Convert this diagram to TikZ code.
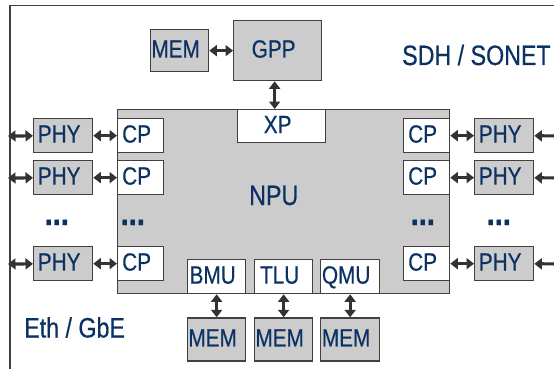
\documentclass[tikz,border=0pt]{standalone}
\usepackage{fontspec}
\setmainfont{Liberation Sans}[FakeStretch=0.83, FakeBold=0.5]
\usetikzlibrary{arrows.meta, positioning}
\definecolor{navy}{HTML}{0B3263}
\definecolor{boxgray}{HTML}{CCCCCC}
\definecolor{edge}{HTML}{404040}
\definecolor{arrowgray}{HTML}{333333}

\begin{document}
\begin{tikzpicture}[
    x=1pt, y=-1pt,
    node distance=23pt,
    box/.style={draw=edge, line width=1.3pt, fill=boxgray, anchor=north west, inner sep=0pt, text=navy,
        font=\fontsize{25}{25}\selectfont, text height=18pt, text depth=4pt, execute at end node=\hspace*{8pt}},
    port/.style={box, fill=white},
    lbl/.style={text=navy, font=\fontsize{28}{28}\selectfont, inner sep=0pt, anchor=base west},
    dots/.style={text=navy, font=\fontsize{35}{35}\selectfont\bfseries, inner sep=0pt, anchor=base west},
    arrow/.style={{Triangle[length=7.5pt,width=11pt]}-{Triangle[length=7.5pt,width=11pt]}, line width=3.2pt, draw=arrowgray}
]
    \useasboundingbox (0,0) rectangle (554,369);
    % frame
    \draw[edge, line width=1.3pt] (10,380) -- (10,5.5) -- (570,5.5);

    \node[box, minimum width=88pt, minimum height=60pt] (gpp) at (233,20) {GPP};
    \node[box, minimum width=58pt, minimum height=42pt] (gmem) at (150,29) {MEM};
    \node[box, minimum width=332pt, minimum height=184pt] (npu) at (117,109) {};
    \node[port, minimum width=88pt, minimum height=33pt] (xp) at (237,109) {XP};

    % left side
    \node[box, minimum width=59pt, minimum height=34pt] (phyla) at (33,118) {PHY};
    \node[box, minimum width=59pt, minimum height=34pt] (phylb) at (33,160) {PHY};
    \node[box, minimum width=59pt, minimum height=34pt] (phylc) at (33,246) {PHY};
    \node[port, minimum width=46pt, minimum height=34pt] (cpla) at (117,118) {CP};
    \node[port, minimum width=46pt, minimum height=34pt] (cplb) at (117,160) {CP};
    \node[port, minimum width=46pt, minimum height=34pt] (cplc) at (117,246) {CP};

    % right side
    \node[port, minimum width=46pt, minimum height=34pt] (cpra) at (403,118) {CP};
    \node[port, minimum width=46pt, minimum height=34pt] (cprb) at (403,160) {CP};
    \node[port, minimum width=46pt, minimum height=34pt] (cprc) at (403,246) {CP};
    \node[box, minimum width=59pt, minimum height=34pt] (phyra) at (474,118) {PHY};
    \node[box, minimum width=59pt, minimum height=34pt] (phyrb) at (474,160) {PHY};
    \node[box, minimum width=59pt, minimum height=34pt] (phyrc) at (474,246) {PHY};

    % bottom units
    \node[port, minimum width=58pt, minimum height=34pt] (bmu) at (187,259) {BMU};
    \node[port, minimum width=58pt, minimum height=34pt] (tlu) at (254,259) {TLU};
    \node[port, minimum width=59pt, minimum height=34pt] (qmu) at (320,259) {QMU};
    \node[box, minimum width=58pt, minimum height=43pt, below=of bmu] (bmem) {MEM};
    \node[box, minimum width=58pt, minimum height=43pt, below=of tlu] (tmem) {MEM};
    \node[box, minimum width=59pt, minimum height=43pt, below=of qmu] (qmem) {MEM};

    % labels
    \node[lbl] (npulbl) at (249,205) {NPU};
    \node[lbl] (sdh) at (402,65) {SDH / SONET};
    \node[lbl] (eth) at (24,337.5) {Eth / GbE};
    \node[dots] (dotpl) at (44.5,225) {...};
    \node[dots] (dotcl) at (120.5,225) {...};
    \node[dots] (dotcr) at (410.5,225) {...};
    \node[dots] (dotpr) at (486.5,225) {...};

    \coordinate (inla) at (8,136);
    \coordinate (inlb) at (8,178);
    \coordinate (inlc) at (8,264);
    \coordinate (outra) at (574,136);
    \coordinate (outrb) at (574,178);
    \coordinate (outrc) at (574,264);

    \draw[arrow] (gmem) -- (gpp);
    \draw[arrow] ([xshift=-3pt]gpp.south) -- ([xshift=-7pt]xp.north);
    \draw[arrow] (inla) -- (phyla);
    \draw[arrow] (inlb) -- (phylb);
    \draw[arrow] (inlc) -- (phylc);
    \draw[arrow] (phyla) -- (cpla);
    \draw[arrow] (phylb) -- (cplb);
    \draw[arrow] (phylc) -- (cplc);
    \draw[arrow] (cpra) -- (phyra);
    \draw[arrow] (cprb) -- (phyrb);
    \draw[arrow] (cprc) -- (phyrc);
    \draw[arrow] (phyra) -- (outra);
    \draw[arrow] (phyrb) -- (outrb);
    \draw[arrow] (phyrc) -- (outrc);
    \draw[arrow] (bmu) -- (bmem);
    \draw[arrow] (tlu) -- (tmem);
    \draw[arrow] (qmu) -- (qmem);
\end{tikzpicture}
\end{document}
